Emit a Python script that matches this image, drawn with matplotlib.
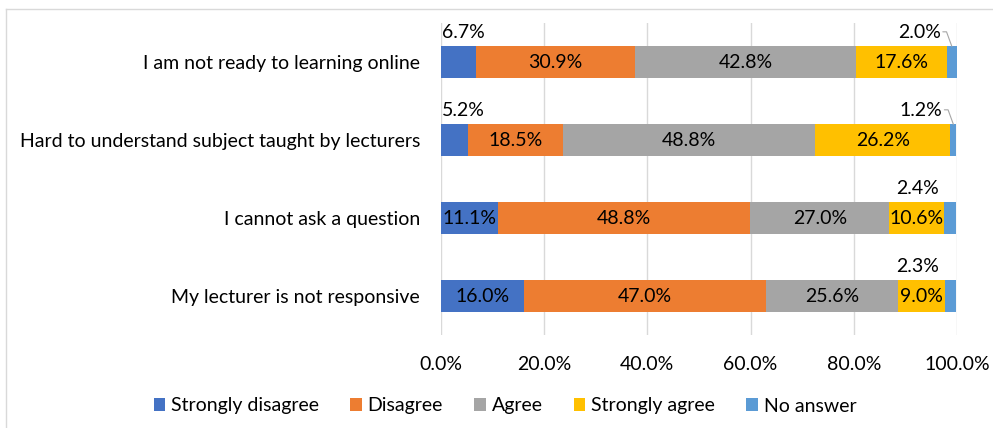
import matplotlib
matplotlib.use("Agg")
import matplotlib.pyplot as plt
from matplotlib.lines import Line2D
from matplotlib.patches import Patch
import numpy as np

categories = ["I am not ready to learning online",
              "Hard to understand subject taught by lecturers",
              "I cannot ask a question",
              "My lecturer is not responsive"]
series_names = ["Strongly disagree", "Disagree", "Agree", "Strongly agree", "No answer"]
strongly_disagree = [6.7, 5.2, 11.1, 16.0]
disagree = [30.9, 18.5, 48.8, 47.0]
agree = [42.8, 48.8, 27.0, 25.6]
strongly_agree = [17.6, 26.2, 10.6, 9.0]
no_answer = [2.0, 1.2, 2.4, 2.3]
xticks = [0, 20, 40, 60, 80, 100]

colors = ["#4472C4", "#ED7D31", "#A5A5A5", "#FFC000", "#5B9BD5"]

plt.rcParams['font.family'] = ['Lato', 'DejaVu Sans']
FS = 14

fig = plt.figure(figsize=(9.93, 4.28), dpi=100)
ax = fig.add_axes([441/993, 1-335/428, (957-441)/993, (335-23)/428])

data = [strongly_disagree, disagree, agree, strongly_agree, no_answer]
y = np.arange(len(categories))
left = np.zeros(len(categories))
for vals, col, name in zip(data, colors, series_names):
    vals = np.array(vals)
    ax.barh(y, vals, left=left, height=0.4, color=col, label=name, zorder=3)
    for i, v in enumerate(vals):
        cx = left[i] + v/2
        if name == "Strongly disagree" and v < 8:
            ax.annotate(f"{v:.1f}%", xy=(left[i], y[i]), xytext=(1, 21.5),
                        textcoords="offset points", ha="left", va="center",
                        fontsize=FS, color="#000000")
        elif name == "No answer":
            ax.annotate(f"{v:.1f}%", xy=(cx, y[i]), xytext=(-8, 21.5),
                        textcoords="offset points", ha="right", va="center",
                        fontsize=FS, color="#000000")
            if i < 2:
                ax.annotate("", xy=(cx, y[i] - 0.2), xytext=(-6.5, 10.5),
                            textcoords="offset points",
                            arrowprops=dict(arrowstyle="-", color="#A6A6A6", lw=0.8,
                                            shrinkA=0, shrinkB=0,
                                            connectionstyle="angle,angleA=0,angleB=110,rad=0"))
        else:
            ax.text(cx, y[i], f"{v:.1f}%", ha="center", va="center",
                    fontsize=FS, color="#000000", zorder=4)
    left = left + vals

ax.set_xlim(0, 100)
ax.set_ylim(len(categories) - 0.5, -0.5)
ax.set_yticks(y)
ax.set_yticklabels(categories, fontsize=FS, color="#000000")
ax.set_xticks(xticks)
ax.set_xticklabels([f"{t:.1f}%" for t in xticks], fontsize=FS, color="#000000")
ax.tick_params(axis="both", length=0)
ax.tick_params(axis="y", pad=15)
ax.tick_params(axis="x", pad=15)
ax.xaxis.grid(True, color="#D9D9D9", lw=1, zorder=0)
for s in ax.spines.values():
    s.set_visible(False)

handles = [Patch(facecolor=c, edgecolor='none') for c in colors]
fig.legend(handles, series_names, loc="center", bbox_to_anchor=(505/993, 1-406/428),
           ncol=5, frameon=False, fontsize=FS, handlelength=0.6, handleheight=0.6,
           handletextpad=0.3, columnspacing=1.6)

# figure border (left and top)
fig.add_artist(Line2D([6/993, 6/993], [0, 1-9/428], transform=fig.transFigure,
                      color="#D9D9D9", lw=1))
fig.add_artist(Line2D([6/993, 1], [1-9/428, 1-9/428], transform=fig.transFigure,
                      color="#D9D9D9", lw=1))

fig.savefig("out.png", dpi=100)
